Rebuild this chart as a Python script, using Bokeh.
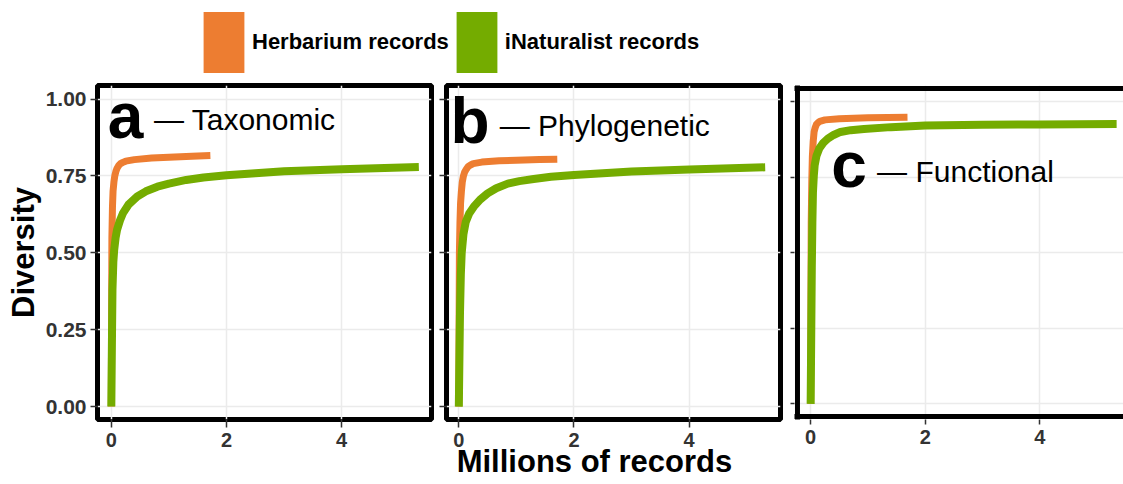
from bokeh.plotting import figure
from bokeh.models import (Range1d, FixedTicker, PrintfTickFormatter, Label, Span,
                          Legend, LegendItem, CustomLabelingPolicy, CustomJSTickFormatter)
from bokeh.layouts import column, row
from bokeh.embed import file_html
from bokeh.resources import INLINE

FONT = "Liberation Sans"
NAN = float("nan")

series_names = ["Herbarium records", "iNaturalist records"]
series_colors = ["#ED7D31", "#74AC00"]
panel_letters = ["a", "b", "c"]
panel_titles = ["\u2014 Taxonomic", "\u2014 Phylogenetic", "\u2014 Functional"]
y_ticks = [0.0, 0.25, 0.5, 0.75, 1.0]
x_ticks = [0, 2, 4]
y_label = "Diversity"
x_label = "Millions of records"

# (a) Taxonomic
herb_a_x = [0, 0.005, 0.01, 0.02, 0.03, 0.045, 0.06, 0.08, 0.1, 0.13, 0.16, 0.2, 0.25, 0.4, 0.7, 1.0, 1.4, 1.72]
herb_a_y = [0, 0.3, 0.55, 0.65, 0.70, 0.73, 0.75, 0.765, 0.775, 0.784, 0.79, 0.794, 0.798, 0.803, 0.808, 0.811, 0.814, 0.816]
inat_a_x = [0, 0.01, 0.02, 0.035, 0.05, 0.075, 0.1, 0.15, 0.2, 0.3, 0.45, 0.6, 0.8, 1.0, 1.3, 1.6, 2.0, 2.5, 3.0, 4.0, 5.34]
inat_a_y = [0, 0.2, 0.38, 0.47, 0.51, 0.55, 0.575, 0.605, 0.628, 0.657, 0.683, 0.70, 0.715, 0.725, 0.737, 0.745, 0.752, 0.759, 0.765, 0.772, 0.779]

# (b) Phylogenetic
herb_b_x = [0, 0.005, 0.01, 0.02, 0.03, 0.045, 0.06, 0.08, 0.1, 0.13, 0.16, 0.2, 0.25, 0.4, 0.7, 1.0, 1.4, 1.71]
herb_b_y = [0, 0.28, 0.5, 0.6, 0.66, 0.70, 0.73, 0.75, 0.762, 0.772, 0.78, 0.785, 0.79, 0.795, 0.799, 0.801, 0.803, 0.804]
inat_b_x = [0, 0.02, 0.035, 0.05, 0.08, 0.12, 0.18, 0.26, 0.37, 0.5, 0.65, 0.85, 1.05, 1.3, 1.6, 2.0, 2.5, 3.0, 4.0, 5.32]
inat_b_y = [0, 0.3, 0.43, 0.5, 0.56, 0.6, 0.628, 0.65, 0.673, 0.693, 0.71, 0.725, 0.733, 0.74, 0.747, 0.753, 0.759, 0.764, 0.771, 0.778]

# (c) Functional
herb_c_x = [0, 0.005, 0.01, 0.02, 0.03, 0.045, 0.06, 0.08, 0.1, 0.13, 0.16, 0.25, 0.5, 1.0, 1.69]
herb_c_y = [0, 0.35, 0.6, 0.74, 0.82, 0.87, 0.9, 0.915, 0.925, 0.931, 0.935, 0.94, 0.944, 0.947, 0.949]
inat_c_x = [0, 0.02, 0.03, 0.04, 0.055, 0.07, 0.1, 0.15, 0.22, 0.3, 0.4, 0.52, 0.7, 0.93, 1.4, 2.0, 3.0, 4.0, 5.34]
inat_c_y = [0, 0.45, 0.6, 0.7, 0.755, 0.79, 0.82, 0.845, 0.864, 0.878, 0.89, 0.9, 0.906, 0.91, 0.916, 0.921, 0.924, 0.925, 0.926]

herb_x = [herb_a_x, herb_b_x, herb_c_x]
herb_y = [herb_a_y, herb_b_y, herb_c_y]
inat_x = [inat_a_x, inat_b_x, inat_c_x]
inat_y = [inat_a_y, inat_b_y, inat_c_y]

# panel geometry
Y_RANGE = (-0.042, 1.044)
X_RANGES = [(-0.24, 5.56), (-0.214, 5.586), (-0.282, 5.46)]
Y_RANGES = [Y_RANGE, Y_RANGE, (-0.0518, 1.0538)]
WIDTHS = [438, 350, 335]
BORDERS_L = [97, 8, 6]
BORDERS_R = [7, 8, 0]
BORDERS_T = [6, 6, 3]
FRAME_H = [334, 334, 340]
PANEL_H = 375
Y_TICK_OUT = [7, 7, 4]
X_TICK_OUT = [8, 8, 5]
C_BORDER_X = -0.23

# label positions in data units of each panel
letter_pos = [(-0.06, 0.945), (-0.144, 0.927), (0.358, 0.79)]
title_pos = [(0.74, 0.932), (0.71, 0.913), (1.16, 0.768)]

hide_labels = "for (const i of indices) indices.unset(i); return indices"

panels = []
for i in range(3):
    p = figure(width=WIDTHS[i], height=PANEL_H,
               x_range=Range1d(*X_RANGES[i]), y_range=Range1d(*Y_RANGES[i]),
               output_backend="svg", toolbar_location=None,
               min_border_left=BORDERS_L[i], min_border_right=BORDERS_R[i],
               min_border_top=BORDERS_T[i],
               min_border_bottom=PANEL_H - BORDERS_T[i] - FRAME_H[i])
    p.background_fill_color = "white"
    p.border_fill_color = "white"
    if i < 2:
        p.outline_line_color = "black"
        p.outline_line_width = 5
    else:
        p.outline_line_color = None
    p.grid.grid_line_color = "#EBEBEB"
    p.grid.grid_line_width = 1.5

    p.xaxis.ticker = FixedTicker(ticks=x_ticks)
    p.yaxis.ticker = FixedTicker(ticks=y_ticks)
    for ax in (p.xaxis[0], p.yaxis[0]):
        ax.axis_line_color = None
        ax.major_tick_in = 0
        ax.minor_tick_out = 0
        ax.minor_tick_in = 0
        ax.major_tick_line_color = "#333333"
        ax.major_tick_line_width = 1.5
        ax.major_label_text_font = FONT
        ax.major_label_text_font_style = "bold"
        ax.major_label_text_color = "#333333"
        ax.major_label_text_font_size = "20px"
    p.xaxis.major_tick_out = X_TICK_OUT[i]
    p.xaxis.major_label_standoff = 5
    p.yaxis.major_tick_out = Y_TICK_OUT[i]
    if i == 0:
        p.yaxis.formatter = PrintfTickFormatter(format="%.2f")
        p.yaxis.major_label_text_font_size = "21px"
        p.yaxis.major_label_standoff = 4
        p.yaxis.axis_label = y_label
        p.yaxis.axis_label_text_font = FONT
        p.yaxis.axis_label_text_font_style = "bold"
        p.yaxis.axis_label_text_font_size = "31px"
        p.yaxis.axis_label_text_color = "black"
        p.yaxis.axis_label_standoff = 2
    else:
        # ticks only, no tick labels on panels b and c
        p.yaxis.formatter = CustomJSTickFormatter(code="return ''")
        p.yaxis.major_label_policy = CustomLabelingPolicy(code=hide_labels)
        p.yaxis.major_label_standoff = 0

    p.line(herb_x[i], herb_y[i], line_color=series_colors[0], line_width=7,
           line_cap="butt", line_join="round")
    p.line(inat_x[i], inat_y[i], line_color=series_colors[1], line_width=8,
           line_cap="butt", line_join="round")

    p.add_layout(Label(x=letter_pos[i][0], y=letter_pos[i][1], text=panel_letters[i],
                       text_font=FONT, text_font_style="bold", text_font_size="64px",
                       text_color="black", text_baseline="alphabetic"))
    p.add_layout(Label(x=title_pos[i][0], y=title_pos[i][1], text=panel_titles[i],
                       text_font=FONT, text_font_size="30px",
                       text_color="black", text_baseline="alphabetic"))
    if i == 2:
        for loc, dim in ((C_BORDER_X, "height"), (Y_RANGE[0], "width"), (Y_RANGE[1], "width")):
            p.add_layout(Span(location=loc, dimension=dim, line_color="black",
                              line_width=5, line_cap="square"))
    panels.append(p)

# legend strip
lg = figure(width=1123, height=79, x_range=Range1d(0, 1), y_range=Range1d(0, 1),
            output_backend="svg", toolbar_location=None, min_border=0,
            x_axis_type=None, y_axis_type=None)
lg.grid.visible = False
lg.outline_line_color = None
items = []
for name, col in zip(series_names, series_colors):
    r = lg.quad(left=[NAN], right=[NAN], top=[NAN], bottom=[NAN],
                fill_color=col, line_color=None)
    items.append(LegendItem(label=name, renderers=[r]))
legend = Legend(items=items, location=(133, -1), orientation="horizontal",
                glyph_width=51, glyph_height=76, label_standoff=3, spacing=2,
                padding=0, margin=0, border_line_color=None, background_fill_alpha=0,
                label_text_font=FONT, label_text_font_style="bold",
                label_text_font_size="22px", label_text_color="black")
lg.add_layout(legend)

# x-axis title strip (transparent, overlapping the panels' bottom margin)
xs = figure(width=1123, height=44, x_range=Range1d(0, 1), y_range=Range1d(0, 1),
            output_backend="svg", toolbar_location=None,
            min_border_left=65, min_border_right=0, min_border_top=0, min_border_bottom=0,
            x_axis_location="above", y_axis_type=None)
xs.margin = (-14, 0, 0, 0)
xs.grid.visible = False
xs.outline_line_color = None
xs.border_fill_color = None
xs.background_fill_color = None
xs.xaxis.ticker = FixedTicker(ticks=[])
xs.xaxis.axis_line_color = None
xs.xaxis.major_tick_out = 0
xs.xaxis.major_tick_in = 0
xs.xaxis.minor_tick_out = 0
xs.xaxis.minor_tick_in = 0
xs.xaxis.major_label_standoff = 0
xs.xaxis.axis_label = x_label
xs.xaxis.axis_label_standoff = 0
xs.xaxis.axis_label_text_font = FONT
xs.xaxis.axis_label_text_font_style = "bold"
xs.xaxis.axis_label_text_font_size = "31px"
xs.xaxis.axis_label_text_color = "black"

layout = column(lg, row(*panels, spacing=0), xs, spacing=0)
open("out.html", "w").write(file_html(layout, INLINE))
